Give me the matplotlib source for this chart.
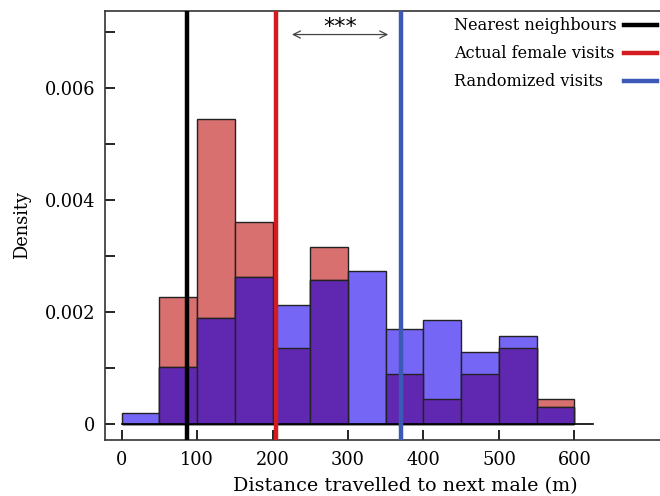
import numpy as np
import matplotlib
matplotlib.use('Agg')
import matplotlib.pyplot as plt
from matplotlib.lines import Line2D

# histogram bins (m) and densities
bin_edges = np.arange(0, 650, 50)
female = [0.0, 0.00226, 0.00544, 0.00361, 0.00135, 0.00315,
          0.0, 0.00089, 0.00044, 0.00089, 0.00135, 0.00044]
random_visits = [0.00019, 0.00102, 0.00189, 0.00262, 0.00212, 0.00257,
                 0.00273, 0.00169, 0.00186, 0.00129, 0.00157, 0.00030]

# mean distances
nearest_mean = 86
female_mean = 205
random_mean = 370

legend_labels = ['Nearest neighbours', 'Actual female visits', 'Randomized visits']
line_colors = ['black', '#d21c1f', '#3b59b5']
xticks = [0, 100, 200, 300, 400, 500, 600]
yticks = [0, 0.002, 0.004, 0.006]
ytick_labels = ['0', '0.002', '0.004', '0.006']

plt.rcParams['font.family'] = ['DejaVu Serif']
plt.rcParams['font.size'] = 12.8

fig = plt.figure(figsize=(6.6, 4.96), dpi=100)
ax = fig.add_axes([105 / 660, 56 / 496, 600 / 660, 429 / 496])

left = bin_edges[:-1]
width = np.diff(bin_edges)
female = np.array(female)
random_visits = np.array(random_visits)
overlap = np.minimum(female, random_visits)

ax.bar(left, female, width=width, align='edge', color='#d87070',
       edgecolor='#222222', linewidth=1.0)
ax.bar(left, random_visits, width=width, align='edge', color='#7566f5',
       edgecolor='#222222', linewidth=1.0)
ax.bar(left, overlap, width=width, align='edge', color='#6027b0',
       edgecolor='#222222', linewidth=1.0)
ax.plot([0, 625], [0, 0], color='black', linewidth=1.2)

for xm, c in zip([nearest_mean, female_mean, random_mean], line_colors):
    ax.axvline(xm, ymin=0, ymax=0.995, color=c, linewidth=3.2, zorder=5)

ax.annotate('', xy=(222, 0.00695), xytext=(357, 0.00695),
            arrowprops=dict(arrowstyle='<->', color='#444444', lw=0.9))
ax.text(289, 0.00709, '***', ha='center', va='center', fontsize=16,
        family='DejaVu Sans')

# legend drawn by hand: text left aligned, line to the right
row_y = [25, 53, 81]
for ry, c, lab in zip(row_y, line_colors, legend_labels):
    yf = 1 - ry / 496
    fig.text(454 / 660, yf, lab, ha='left', va='center', fontsize=11.6)
    fig.add_artist(Line2D([624 / 660, 657 / 660], [yf, yf], color=c,
                          linewidth=3.2, transform=fig.transFigure))

ax.set_xlim(-22, 773)
ax.set_ylim(-0.000286, 0.00737)
ax.set_xticks(xticks)
ax.set_yticks(yticks)
ax.set_yticklabels(ytick_labels)
ax.set_yticks([0.001, 0.003, 0.005, 0.007], minor=True)
ax.tick_params(which='both', direction='in', length=7, width=1.2)
ax.tick_params(axis='y', pad=7)
ax.tick_params(axis='x', pad=8)
for s in ['left', 'bottom', 'top']:
    ax.spines[s].set_linewidth(1.2)
    ax.spines[s].set_color('#333333')
ax.spines['right'].set_visible(False)

ax.set_xlabel('Distance travelled to next male (m)', labelpad=6, fontsize=13.8)
ax.set_ylabel('Density', labelpad=10)

fig.savefig('out.png', dpi=100)
